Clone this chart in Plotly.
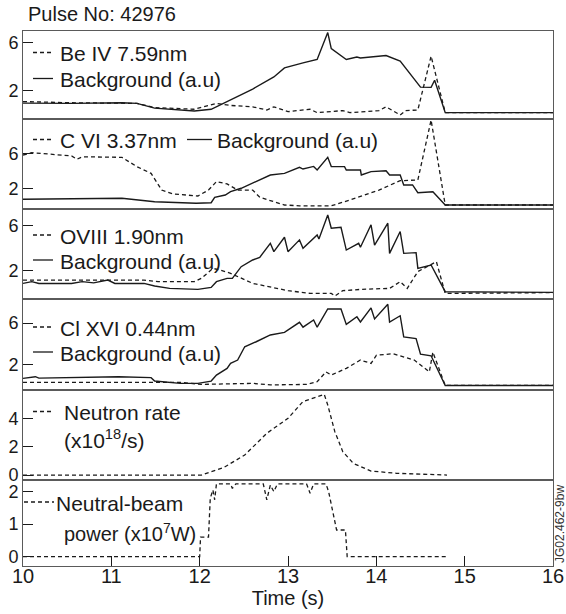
import plotly.graph_objects as go

# ---- time base and signals (s, a.u.) ----
be_bg_t = [10.00, 10.55, 11.12, 11.29, 11.49, 11.66, 11.94, 12.13, 12.35, 12.60, 12.84, 12.96, 13.17, 13.33,
           13.45, 13.49, 13.66, 13.78, 13.82, 14.11, 14.27, 14.50, 14.62, 14.66, 14.78, 16.00]
be_bg_v = [0.97, 0.95, 1.0, 0.95, 0.55, 0.46, 0.32, 0.46, 1.24, 2.14, 3.15, 3.9, 4.32, 4.6,
           6.84, 5.5, 4.6, 4.8, 4.72, 4.93, 4.46, 2.3, 2.28, 2.87, 0.18, 0.18]
be_t = [10.00, 10.55, 11.29, 11.49, 11.94, 12.19, 12.35, 12.60, 12.76, 12.84, 13.00, 13.25, 13.33, 13.62,
        13.70, 14.03, 14.11, 14.27, 14.33, 14.47, 14.62, 14.78, 16.00]
be_v = [1.1, 1.0, 0.95, 0.6, 0.46, 0.95, 0.78, 0.66, 0.4, 0.66, 0.26, 0.46, 0.18, 0.35,
        0.18, 0.35, 0.66, -0.02, 0.35, 0.4, 4.88, 0.18, 0.18]

c_bg_t = [10.00, 11.12, 11.49, 11.96, 12.13, 12.17, 12.29, 12.35, 12.47, 12.60, 12.80, 12.96, 13.13, 13.17,
          13.29, 13.33, 13.45, 13.49, 13.64, 13.66, 13.82, 13.83, 13.94, 14.11, 14.15, 14.27, 14.31, 14.41,
          14.47, 14.64, 14.78, 16.00]
c_bg_v = [0.74, 0.86, 0.47, 0.29, 0.35, 0.97, 1.23, 1.61, 2.0, 2.57, 3.52, 3.71, 4.4, 4.2,
          4.5, 4.09, 5.54, 4.48, 4.48, 4.09, 4.09, 3.52, 3.9, 4.01, 3.52, 3.52, 2.38, 2.38,
          1.5, 1.61, 0.09, 0.09]
c_t = [10.00, 10.10, 10.55, 10.61, 10.67, 11.12, 11.29, 11.45, 11.57, 11.70, 11.98, 12.10, 12.19, 12.31,
       12.43, 12.60, 12.68, 12.96, 13.13, 13.49, 13.70, 14.03, 14.27, 14.47, 14.62, 14.78, 16.00]
c_v = [5.8, 6.07, 5.7, 5.31, 5.6, 5.54, 4.47, 3.71, 1.8, 1.35, 1.12, 1.8, 2.76, 2.5,
       1.8, 1.8, 0.97, 0.09, 0.0, 0.0, 0.66, 1.8, 2.87, 2.95, 9.8, 0.09, 0.09]

o_bg_t = [10.00, 10.10, 10.18, 10.55, 10.67, 10.80, 10.96, 11.04, 11.37, 11.49, 11.66, 11.98, 12.13, 12.19,
          12.31, 12.37, 12.47, 12.60, 12.68, 12.80, 12.84, 12.96, 13.00, 13.13, 13.17, 13.33, 13.35, 13.45,
          13.49, 13.60, 13.66, 13.80, 13.82, 13.94, 13.98, 14.13, 14.15, 14.27, 14.31, 14.45, 14.47, 14.62,
          14.78, 16.00]
o_bg_v = [0.91, 1.06, 0.9, 0.9, 1.06, 0.95, 1.2, 0.9, 0.91, 0.68, 0.47, 0.38, 0.56, 1.06,
          1.35, 1.35, 2.37, 2.96, 3.19, 4.42, 3.69, 4.95, 3.69, 4.72, 3.98, 5.15, 4.8, 6.9,
          5.74, 5.82, 3.83, 4.42, 4.07, 6.04, 4.27, 6.18, 3.54, 5.45, 3.54, 3.6, 2.22, 2.52,
          0.18, 0.12]
o_t = [10.00, 11.37, 11.53, 11.94, 12.02, 12.15, 12.23, 12.35, 12.60, 13.00, 13.25, 13.49, 13.53, 13.62,
       13.82, 14.15, 14.27, 14.35, 14.47, 14.68, 14.78, 16.00]
o_v = [1.2, 1.2, 1.06, 1.06, 1.35, 2.22, 2.08, 1.79, 0.91, 0.27, 0.03, 0.03, -0.2, 0.27,
       0.38, 0.47, 1.06, 0.47, 1.94, 2.81, 0.03, 0.1]

cl_bg_t = [10.00, 10.14, 10.18, 11.08, 11.45, 11.49, 11.78, 11.98, 12.13, 12.19, 12.31, 12.35, 12.43, 12.51,
           12.64, 12.80, 12.96, 13.13, 13.17, 13.29, 13.33, 13.45, 13.60, 13.66, 13.78, 13.82, 13.94, 13.98,
           14.13, 14.15, 14.27, 14.31, 14.45, 14.50, 14.62, 14.78, 16.00]
cl_bg_v = [0.68, 0.84, 0.7, 0.84, 0.75, 0.42, 0.2, 0.2, 0.42, 1.0, 1.64, 2.12, 2.44, 3.72,
           4.2, 4.85, 5.1, 6.07, 5.6, 6.29, 5.6, 7.35, 7.35, 5.87, 6.6, 6.1, 7.45, 6.4,
           7.8, 6.1, 6.7, 4.66, 4.5, 3.0, 2.85, 0.0, 0.0]
cl_t = [10.00, 11.78, 12.02, 12.60, 12.80, 13.21, 13.33, 13.43, 13.49, 13.66, 13.82, 13.94, 14.00, 14.19,
        14.43, 14.60, 14.64, 14.78, 16.00]
cl_v = [0.3, 0.3, 0.1, 0.2, 0.05, 0.1, 0.36, 1.3, 1.0, 1.64, 2.44, 2.12, 2.9, 3.05,
        2.44, 1.3, 3.2, 0.0, 0.0]

neutron_t = [10.00, 12.02, 12.27, 12.51, 12.76, 13.00, 13.17, 13.41, 13.45, 13.53, 13.62, 13.74, 13.94,
             14.23, 14.80]
neutron_v = [0.0, 0.0, 0.52, 1.41, 2.94, 4.0, 5.18, 5.69, 4.94, 3.06, 1.65, 0.82, 0.28, 0.12, 0.0]

nbi_t = [10.00, 12.00, 12.01, 12.10, 12.12, 12.15, 12.17, 12.19, 12.21, 12.35, 12.37, 12.41, 12.72, 12.76,
         12.80, 12.84, 12.88, 12.92, 13.21, 13.25, 13.29, 13.43, 13.46, 13.55, 13.58, 13.65, 13.67, 14.80]
nbi_v = [0.0, 0.0, 0.6, 0.6, 1.8, 2.05, 1.75, 2.24, 2.24, 2.24, 2.1, 2.24, 2.24, 1.75,
         2.2, 2.0, 2.24, 2.24, 2.24, 1.95, 2.24, 2.24, 2.0, 0.82, 0.82, 0.82, 0.0, 0.0]

x_ticks = [10, 11, 12, 13, 14, 15, 16]

# ---- page geometry (pixels) ----
W, H = 566, 614
L, R, T, B = 23, 13, 31, 48
plot_h = H - T - B
edges = [31, 119, 208.5, 299, 389.5, 480, 566]


def py(px):
    """page pixel row -> paper y"""
    return (H - B - px) / plot_h


def pxf(px):
    """page pixel column -> paper x"""
    return (px - L) / (W - L - R)


INK = "#1a1a1a"
FRAME = "#5a5a5a"
FONT = "Liberation Sans, Arial, Helvetica, sans-serif"
DASH = "4px,3px"

panels = [
    dict(series=[(be_t, be_v, DASH), (be_bg_t, be_bg_v, "solid")], rng=[-0.35, 6.97], ticks=[2, 6]),
    dict(series=[(c_t, c_v, DASH), (c_bg_t, c_bg_v, "solid")], rng=[-0.31, 9.92], ticks=[2, 6]),
    dict(series=[(o_t, o_v, DASH), (o_bg_t, o_bg_v, "solid")], rng=[-0.46, 7.47], ticks=[2, 6]),
    dict(series=[(cl_t, cl_v, DASH), (cl_bg_t, cl_bg_v, "solid")], rng=[-0.39, 8.31], ticks=[2, 6]),
    dict(series=[(neutron_t, neutron_v, DASH)], rng=[-0.35, 6.03], ticks=[0, 2, 4]),
    dict(series=[(nbi_t, nbi_v, DASH)], rng=[-0.29, 2.36], ticks=[0, 1, 2]),
]

fig = go.Figure()
layout = {}
for i, p in enumerate(panels):
    k = i + 1
    xs = "" if k == 1 else str(k)
    for t, v, dash in p["series"]:
        fig.add_trace(go.Scatter(
            x=t, y=v, mode="lines", xaxis="x" + xs, yaxis="y" + xs,
            line=dict(color=INK, width=1.4 if dash == "solid" else 1.3, dash=dash),
            showlegend=False, hoverinfo="skip"))
    dom = [py(edges[i + 1]), py(edges[i])]
    last = k == len(panels)
    xa = dict(
        domain=[0, 1], range=[10, 16], anchor="y" + xs, showline=True, mirror=True,
        linecolor=FRAME, linewidth=1, showgrid=False, zeroline=False, automargin=False,
        ticks="inside" if last else "", ticklen=10, tickcolor=INK, tickwidth=1,
        tickvals=x_ticks if last else [], showticklabels=last,
        tickfont=dict(size=20, color=INK, family=FONT),
    )
    if last:
        xa["ticklabelstandoff"] = -8
        xa["title"] = dict(text="Time (s)", font=dict(size=20, color=INK, family=FONT), standoff=3)
    layout["xaxis" + xs] = xa
    layout["yaxis" + xs] = dict(
        domain=dom, range=p["rng"], anchor="x" + xs, showline=True, mirror=True,
        linecolor=FRAME, linewidth=1, showgrid=False, zeroline=False, automargin=False,
        ticks="inside", ticklen=10, tickcolor=INK, tickwidth=1, tickvals=p["ticks"],
        tickfont=dict(size=18, color=INK, family=FONT),
    )

fig.update_layout(**layout)

# ---- in-panel keys: line sample + label ----
shapes = []
annotations = []


def key(x0, x1, ypx, dash):
    shapes.append(dict(type="line", xref="paper", yref="paper", x0=pxf(x0), x1=pxf(x1),
                       y0=py(ypx), y1=py(ypx),
                       line=dict(color=INK, width=1.3, dash=DASH if dash else "solid")))


def label(xpx, ypx, text, size=21):
    annotations.append(dict(text=text, xref="paper", yref="paper", x=pxf(xpx), y=py(ypx),
                            xanchor="left", yanchor="middle", showarrow=False,
                            font=dict(size=size, color=INK, family=FONT)))


key(33, 53, 52.5, True); label(58, 53.5, "Be IV 7.59nm")
key(33, 53, 78.5, False); label(58, 79.5, "Background (a.u)")

key(33, 53, 139.5, True); label(58, 140.5, "C VI 3.37nm")
key(187, 212, 139.5, False); label(215, 140.5, "Background (a.u)")

key(33, 53, 235, True); label(58, 236, "OVIII 1.90nm")
key(33, 53, 260, False); label(58, 261, "Background (a.u)")

key(33, 53, 327, True); label(58, 328, "Cl XVI 0.44nm")
key(33, 53, 352, False); label(58, 353, "Background (a.u)")

key(33, 54, 411.5, True); label(62, 412.5, "Neutron rate")
label(62, 439, "(x10<sup>18</sup>/s)")

key(24, 54, 502, True); label(54, 503, "Neutral-beam")
label(62, 532, "power (x10<sup>7</sup>W)", size=20)

annotations.append(dict(text="Pulse No: 42976", xref="paper", yref="paper", x=pxf(26), y=py(14),
                        xanchor="left", yanchor="middle", showarrow=False,
                        font=dict(size=20, color=INK, family=FONT)))
annotations.append(dict(text="JG02.462-9bw", xref="paper", yref="paper", x=pxf(560), y=py(524),
                        xanchor="center", yanchor="middle", showarrow=False, textangle=-90,
                        font=dict(size=12, color="#333333", family=FONT)))

fig.update_layout(
    template="none",
    width=W, height=H, margin=dict(l=L, r=R, t=T, b=B, pad=0, autoexpand=False),
    paper_bgcolor="white", plot_bgcolor="white",
    shapes=shapes, annotations=annotations, showlegend=False,
)

fig.write_html("out.html", include_plotlyjs=True, config={"displayModeBar": False})
